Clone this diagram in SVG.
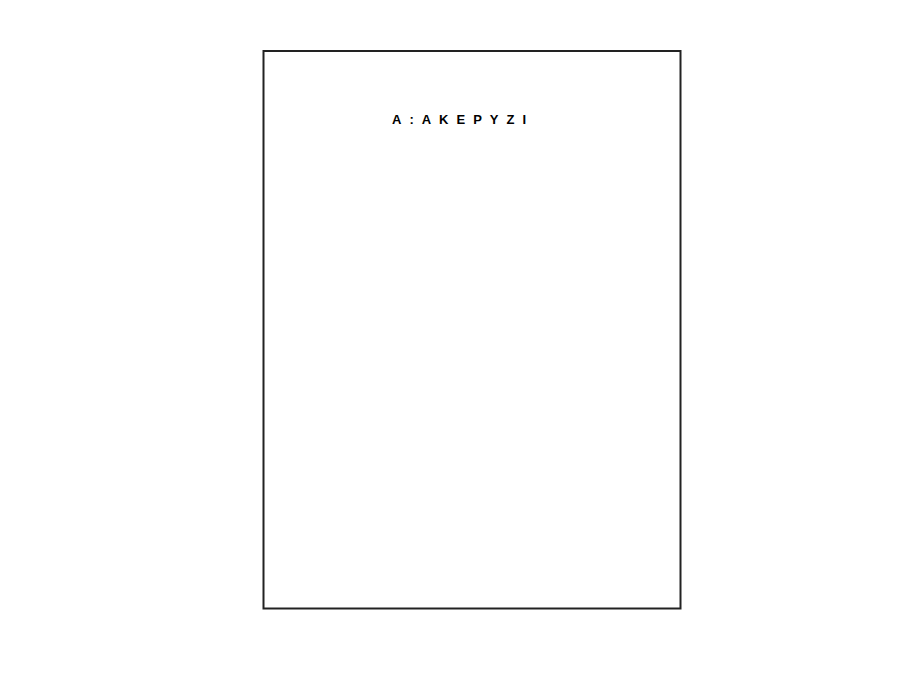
<svg xmlns="http://www.w3.org/2000/svg" width="912" height="685" viewBox="0 0 912 685">
<style>
.frame{fill:none;stroke:#222;stroke-width:2}
.title{font-family:"Liberation Sans",Arial,sans-serif;font-weight:bold;font-size:13px;fill:#000;letter-spacing:8px}
</style>
<rect width="912" height="685" fill="#fff"/>
<g id="frame">
<rect class="frame" x="263.5" y="51" width="417" height="557.5"/>
</g>
<g id="title">
<text class="title" x="392" y="124">A:AKEPYZI</text>
</g>
</svg>
